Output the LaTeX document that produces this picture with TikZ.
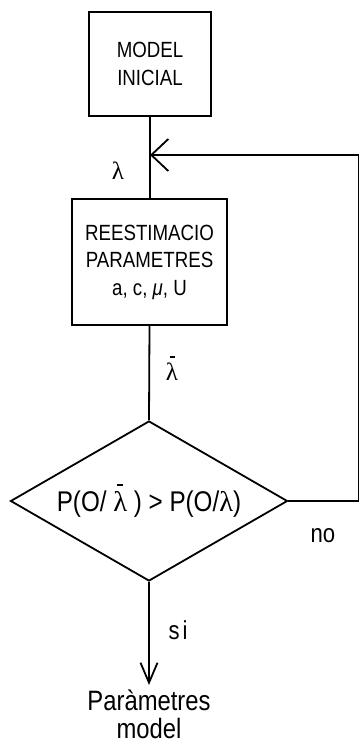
\documentclass[tikz,border=0pt]{standalone}
\usepackage{fontspec}
\setmainfont{Liberation Sans}[FakeStretch=0.85]
\newfontfamily\greekserif{Liberation Serif}
\usetikzlibrary{arrows.meta,shapes.geometric}
% upright lambda, and lambda with a short bar above it
\newcommand\lam{{\greekserif λ}}
\newcommand\lambar{{\greekserif\setbox0\hbox{λ}%
  \rlap{\hbox to\wd0{\hss\raisebox{0.9em}{\rule{0.2em}{0.06em}}\hss}}\box0}}

\begin{document}
\begin{tikzpicture}[x=1pt,y=-1pt,line width=1.8pt,
  box/.style={draw,rectangle,align=center,inner sep=0pt,
    font=\fontsize{22}{27.5}\selectfont},
  decision/.style={draw,diamond,shape aspect=1.73,inner sep=0pt,
    minimum width=277pt,minimum height=160pt,font=\fontsize{28.5}{30}\selectfont},
  loopback/.style={-{Straight Barb[length=17pt,width=32pt]}},
  onward/.style={-{Straight Barb[length=20pt,width=17pt]}},
  lbl/.style={inner sep=0pt,font=\fontsize{26}{30}\selectfont},
  greek/.style={inner sep=0pt,font=\fontsize{25}{25}\selectfont}]
\useasboundingbox (0,0) rectangle (360,745);

% blocks
\node[box,minimum width=122pt,minimum height=104pt] (init) at (150,64) {MODEL\\INICIAL};
\node[box,minimum width=155pt,minimum height=126pt] (reest) at (149.5,262)
  {REESTIMACIO\\PARAMETRES\\a, c, {\itshape μ}, U};
\node[decision] (test) at (149,501) {P(O/ \lambar{} ) > P(O/\lam)};
\node[anchor=north,align=center,inner sep=0pt,font=\fontsize{28}{28}\selectfont]
  (out) at (149,689) {Paràmetres\\model};

% junction and corners of the loop
\coordinate (join) at (150,155);
\coordinate (c1) at (358.5,501);
\coordinate (c2) at (358.5,155);

% connectors
\draw (init.south) -- (init.south |- reest.north);
\draw (reest.south) -- (test.north);
\draw[loopback] (test.east) -- (c1) -- (c2) -- (join);
\draw[onward] (test.south) -- ([yshift=4pt]out.north);

% labels
\node[greek] (l1) at (118,171) {\lam};
\node[greek,anchor=base] (l2) at (172,380) {\lambar};
\node[lbl] (no) at (323,536) {no};
\node[lbl] (si) at (178,630) {s\kern3pt i};
\end{tikzpicture}
\end{document}
